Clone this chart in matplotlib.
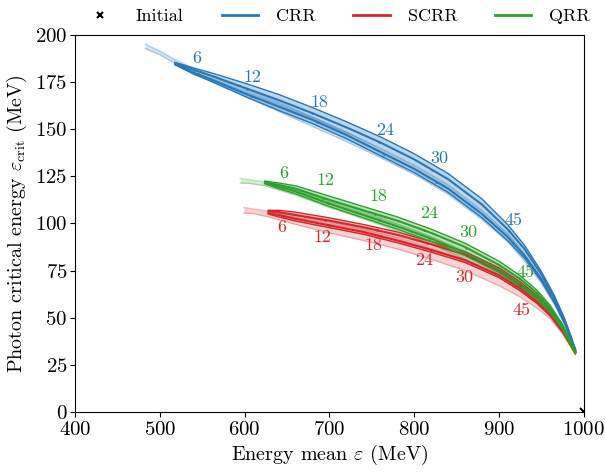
import numpy as np
import matplotlib
matplotlib.use("Agg")
import matplotlib.pyplot as plt
from matplotlib.lines import Line2D

plt.rcParams["font.family"] = ["cmr10", "DejaVu Serif"]
plt.rcParams["mathtext.fontset"] = "cm"
plt.rcParams["axes.formatter.use_mathtext"] = True

# ---- CRR ----
crr_x = [518, 540, 560, 600, 640, 680, 720, 760, 800, 840, 880, 910, 930, 950, 965, 978, 990]
crr_a = [185, 181.5, 178.5, 172, 165.5, 158.5, 151, 143, 134, 123.5, 110, 97, 86.5, 73, 61, 48, 33]
crr_b = [184.5, 180, 176.5, 169, 162, 155, 147, 138, 129, 118.5, 105, 93, 83, 70.5, 59, 47, 32.5]
crr_wa = [0.5, 1, 1.5, 2.5, 3, 3, 3, 3, 3, 3, 3, 2.5, 2, 1.5, 1, 0.8, 0.5]
crr_wb = [0.3, 0.8, 1, 1.5, 2, 2, 2, 2, 2, 2, 2, 2, 1.5, 1.2, 1, 0.8, 0.5]
crr_light_x = [483, 500, 518, 540, 560, 600, 640, 680, 720, 760, 800, 840, 880, 910, 930, 950, 965, 978, 990]
crr_light = [194, 190.5, 186, 181, 177, 169.5, 162, 154, 146, 137.5, 128.5, 118, 104.5, 92.5, 82, 69.5, 58.5, 46.5, 32.5]
crr_light_w = [1.2, 1, 1, 1.2, 1.5, 2, 2.5, 2.5, 2.5, 2.5, 2.5, 2.5, 2.5, 2.2, 2, 1.5, 1.2, 1, 0.5]

# ---- SCRR ----
scrr_x = [628, 640, 660, 700, 740, 780, 820, 860, 900, 925, 945, 960, 975, 990]
scrr_a = [106.5, 106, 104.5, 101.5, 98, 94, 89, 83.5, 75, 67.5, 60.5, 53.5, 44, 32]
scrr_b = [105.5, 104.5, 102.5, 99, 95.5, 91, 86, 80.5, 72.5, 65.5, 58.5, 52, 43, 31.5]
scrr_wa = [0.5, 1, 1.5, 1.5, 1.5, 1.5, 1.5, 1.5, 1.5, 1.5, 1.2, 1, 0.8, 0.5]
scrr_wb = [0.5, 1, 1.2, 1.2, 1.2, 1.2, 1.2, 1.2, 1.2, 1.2, 1, 1, 0.8, 0.5]
scrr_light_x = [599, 610, 628, 640, 660, 700, 740, 780, 820, 860, 900, 925, 945, 960, 975, 990]
scrr_light = [107, 106.5, 105, 104, 102, 98, 94, 89.5, 84, 78, 70, 63.5, 57, 51, 42.5, 31]
scrr_light_w = [1.5, 1.2, 1.5, 2, 2.5, 3, 3, 3, 3, 3, 3, 2.5, 2, 1.5, 1.2, 0.6]

# ---- QRR ----
qrr_x = [624, 640, 660, 700, 740, 780, 820, 860, 900, 925, 945, 960, 975, 990]
qrr_a = [122, 120.5, 118.5, 112.5, 107, 101.5, 95, 87.5, 78, 70.5, 63, 55.5, 45.5, 32]
qrr_b = [121.5, 119.5, 117, 110.5, 104.5, 98.5, 92, 84.5, 75.5, 68, 61, 54, 44.5, 31.5]
qrr_wa = [0.5, 1, 1.5, 2, 2, 2, 2, 2, 2, 1.8, 1.5, 1.2, 1, 0.5]
qrr_wb = [0.5, 1, 1.2, 1.5, 1.5, 1.5, 1.5, 1.5, 1.5, 1.5, 1.2, 1, 0.8, 0.5]
qrr_light_x = [595, 605, 624, 640, 660, 700, 740, 780, 820, 860, 900, 925, 945, 960, 975, 990]
qrr_light = [122.7, 122.3, 121, 119, 116.5, 110.5, 104.5, 98, 91, 83, 73.5, 66, 59, 53, 44, 31]
qrr_light_w = [1.3, 1, 1, 1.2, 1.5, 2, 2, 2, 2, 2, 2, 1.8, 1.5, 1.2, 1, 0.5]

# time markers (x on upper / lower curve) and their labels
times = ["6", "12", "18", "24", "30", "45"]
crr_tx_a = [540, 603, 680, 758, 821, 912]
crr_tx_b = [545, 608, 685, 764, 826, 917]
scrr_tx_a = [640, 695, 756, 815, 862, 925]
scrr_tx_b = [645, 700, 761, 820, 867, 930]
qrr_tx_a = [640, 693, 754, 812, 861, 923]
qrr_tx_b = [645, 698, 759, 817, 866, 928]
crr_lab_x = [544, 609, 688, 766, 829, 917]
crr_lab_y = [187.8, 177.7, 164.5, 149.6, 134.7, 101.9]
scrr_lab_x = [644, 691.5, 752, 812, 859, 927]
scrr_lab_y = [98.1, 92.8, 88.3, 80.6, 71.6, 54.1]
qrr_lab_x = [646, 695, 758, 818, 864, 931]
qrr_lab_y = [126.8, 123.1, 114.5, 105.6, 95.5, 74.3]

C_CRR = "#2878b8"
C_SCRR = "#d62728"
C_QRR = "#2ca02c"

fig = plt.figure(figsize=(6.05, 4.73), dpi=100)
ax = fig.add_axes([0.124, 0.129, 0.841, 0.797])


def light_band(x, y, w, c):
    x, y, w = map(np.asarray, (x, y, w))
    ax.fill_between(x, y - w, y + w, color=c, alpha=0.2, lw=0, zorder=1)
    ax.plot(x, y + w, color=c, alpha=0.3, lw=1.0, zorder=1)
    ax.plot(x, y - w, color=c, alpha=0.3, lw=1.0, zorder=1)


def dark_band(x, ya, yb, wa, wb, c):
    x, ya, yb, wa, wb = map(np.asarray, (x, ya, yb, wa, wb))
    ax.fill_between(x, ya - wa, ya + wa, color=c, alpha=0.3, lw=0, zorder=2)
    ax.fill_between(x, yb - wb, yb + wb, color=c, alpha=0.3, lw=0, zorder=2)
    ax.plot(x, ya + wa, color=c, lw=1.0, zorder=3)
    ax.plot(x, yb - wb, color=c, lw=1.0, zorder=3)
    ax.plot(x, ya, color=c, lw=1.5, zorder=3)
    ax.plot(x, yb, color=c, lw=1.5, zorder=3)


def time_marks(x, ya, yb, txa, txb, c):
    ax.plot(txa, np.interp(txa, x, ya), ls="none", marker="o", ms=1.8,
            color=c, mec="none", zorder=4)
    ax.plot(txb, np.interp(txb, x, yb), ls="none", marker="o", ms=1.8,
            color=c, mec="none", zorder=4)


def time_labels(lx, ly, c):
    for t, xx, yy in zip(times, lx, ly):
        ax.text(xx, yy, t, color=c, fontsize=13, ha="center", va="center", zorder=5)


light_band(crr_light_x, crr_light, crr_light_w, C_CRR)
light_band(scrr_light_x, scrr_light, scrr_light_w, C_SCRR)
light_band(qrr_light_x, qrr_light, qrr_light_w, C_QRR)

dark_band(crr_x, crr_a, crr_b, crr_wa, crr_wb, C_CRR)
dark_band(scrr_x, scrr_a, scrr_b, scrr_wa, scrr_wb, C_SCRR)
dark_band(qrr_x, qrr_a, qrr_b, qrr_wa, qrr_wb, C_QRR)

time_marks(crr_x, crr_a, crr_b, crr_tx_a, crr_tx_b, C_CRR)
time_marks(scrr_x, scrr_a, scrr_b, scrr_tx_a, scrr_tx_b, C_SCRR)
time_marks(qrr_x, qrr_a, qrr_b, qrr_tx_a, qrr_tx_b, C_QRR)

time_labels(crr_lab_x, crr_lab_y, C_CRR)
time_labels(scrr_lab_x, scrr_lab_y, C_SCRR)
time_labels(qrr_lab_x, qrr_lab_y, C_QRR)

# initial beam energy
initial_x = [1000]
initial_y = [0]
ax.plot(initial_x, initial_y, ls="none", marker="x", color="k", ms=6, mew=1.5, zorder=6)

ax.set_xlim(400, 1000)
ax.set_ylim(0, 200)
ax.set_xticks([400, 500, 600, 700, 800, 900, 1000])
ax.set_yticks([0, 25, 50, 75, 100, 125, 150, 175, 200])
ax.tick_params(labelsize=15)
ax.tick_params(axis="x", pad=3)
ax.tick_params(axis="y", pad=2)
ax.set_xlabel(r"Energy mean $\varepsilon$ (MeV)", fontsize=14.5, labelpad=3)
ax.set_ylabel(r"Photon critical energy $\varepsilon_{\mathrm{crit}}$ (MeV)", fontsize=14.5, labelpad=4)

handles = [
    Line2D([], [], ls="none", marker="x", color="k", ms=5, mew=1.5),
    Line2D([], [], color=C_CRR, lw=2),
    Line2D([], [], color=C_SCRR, lw=2),
    Line2D([], [], color=C_QRR, lw=2),
]
ax.legend(handles, ["Initial", "CRR", "SCRR", "QRR"], ncol=4, frameon=False,
          loc="lower center", bbox_to_anchor=(0.513, 1.01), fontsize=13,
          columnspacing=2.1, handlelength=2.0, handletextpad=1.0, borderaxespad=0.0)

fig.savefig("out.png", dpi=100)
